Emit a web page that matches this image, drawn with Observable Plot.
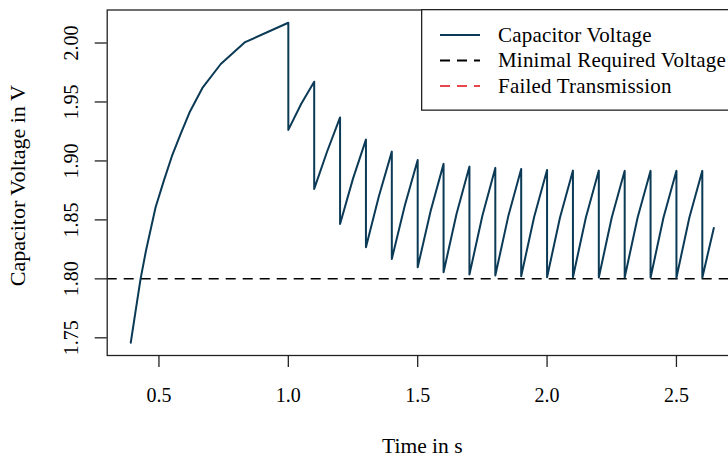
<!DOCTYPE html>
<html><head><meta charset="utf-8">
<script src="https://cdn.jsdelivr.net/npm/d3@7"></script>
<script src="https://cdn.jsdelivr.net/npm/@observablehq/plot@0.6"></script>
<style>
html,body{margin:0;padding:0;background:#fff;overflow:hidden;width:728px;height:458px;}
#wrap{position:relative;width:728px;height:458px;overflow:hidden;}
#wrap svg{display:block;max-width:none !important;}
#legend{position:absolute;left:421px;top:9px;}
</style></head><body><div id="wrap"></div>
<script>
// Capacitor voltage trace (time in s, voltage in V)
const time = [
  0.391, 0.41, 0.429, 0.45, 0.487, 0.519, 0.55, 0.584, 0.62, 0.668, 0.739, 0.831, 1.0,
  1.0, 1.05, 1.1,
  1.1, 1.15, 1.2,
  1.2, 1.25, 1.3,
  1.3, 1.35, 1.4,
  1.4, 1.45, 1.5,
  1.5, 1.55, 1.6,
  1.6, 1.65, 1.7,
  1.7, 1.75, 1.8,
  1.8, 1.85, 1.9,
  1.9, 1.95, 2.0,
  2.0, 2.05, 2.1,
  2.1, 2.15, 2.2,
  2.2, 2.25, 2.3,
  2.3, 2.35, 2.4,
  2.4, 2.45, 2.5,
  2.5, 2.55, 2.6,
  2.6, 2.6445
];
const voltage = [
  1.7458, 1.773, 1.800, 1.824, 1.8607, 1.8833, 1.904, 1.9229, 1.942, 1.9619, 1.9822, 2.0005, 2.0172,
  1.9263, 1.9485, 1.9672,
  1.8763, 1.908, 1.9369,
  1.8466, 1.885, 1.9181,
  1.8268, 1.870, 1.9079,
  1.8169, 1.862, 1.9008,
  1.8098, 1.8575, 1.8975,
  1.8056, 1.855, 1.8952,
  1.8036, 1.8535, 1.8941,
  1.8028, 1.853, 1.8932,
  1.8022, 1.8525, 1.8924,
  1.8014, 1.852, 1.8918,
  1.8014, 1.852, 1.8918,
  1.8012, 1.852, 1.8916,
  1.8012, 1.852, 1.8916,
  1.8010, 1.852, 1.8916,
  1.8010, 1.852, 1.8916,
  1.8010, 1.8432
];
const minVoltage = 1.80;
const xTicks = [0.5, 1.0, 1.5, 2.0, 2.5];
const yTicks = [1.75, 1.80, 1.85, 1.90, 1.95, 2.00];
const xLabel = "Time in s";
const yLabel = "Capacitor Voltage in V";
const legendLabels = ["Capacitor Voltage", "Minimal Required Voltage", "Failed Transmission"];
const legendColors = ["#0b3a56", "#000000", "#e8474b"];
const legendDash = [null, "10,7", "10,7"];

const data = time.map((t, i) => ({t, v: voltage[i]}));
const font = "'Liberation Serif', 'Times New Roman', serif";

const plot = Plot.plot({
  width: 746, height: 458,
  marginLeft: 106.7, marginRight: 9, marginTop: 9.5, marginBottom: 103,
  x: {domain: [0.3, 2.736]},
  y: {domain: [1.735, 2.028]},
  style: {fontFamily: font, fontSize: "20px", color: "#000", background: "#fff", maxWidth: "none"},
  marks: [
    Plot.ruleY([minVoltage], {stroke: "#000", strokeDasharray: "10,7", strokeWidth: 1.5}),
    Plot.line(data, {x: "t", y: "v", stroke: legendColors[0], strokeWidth: 2}),
    Plot.frame({stroke: "#222", strokeWidth: 1.3}),
    Plot.axisX(xTicks, {tickSize: 12, tickPadding: 20, tickFormat: d3.format(".1f"), fontSize: 20, label: null, stroke: "#222", strokeWidth: 1.3}),
    Plot.axisY(yTicks, {tickSize: 12, tickFormat: () => "", label: null, stroke: "#222", strokeWidth: 1.3}),
    Plot.text(yTicks, {y: d => d, text: d3.format(".2f"), frameAnchor: "left", textAnchor: "middle", lineAnchor: "middle", dx: -36, rotate: -90, fontSize: 20, fill: "#000"}),
    Plot.text([xLabel], {text: d => d, frameAnchor: "bottom", textAnchor: "middle", dy: 97, fontSize: 21.5, fill: "#000"}),
    Plot.text([yLabel], {text: d => d, frameAnchor: "left", textAnchor: "middle", lineAnchor: "middle", dx: -89, dy: 3, rotate: -90, fontSize: 22, fill: "#000"})
  ]
});
const wrap = document.getElementById("wrap");
wrap.appendChild(plot);

// Legend box (inside plot area, top right)
const lg = d3.select(wrap).append("svg").attr("id", "legend")
  .attr("width", 320).attr("height", 102);
lg.append("rect").attr("x", 0.65).attr("y", 0.65).attr("width", 330).attr("height", 100.5)
  .attr("fill", "#fff").attr("stroke", "#222").attr("stroke-width", 1.3);
legendLabels.forEach((lab, i) => {
  const cy = 26 + i * 25.5;
  lg.append("line").attr("x1", 19).attr("x2", 59).attr("y1", cy).attr("y2", cy)
    .attr("stroke", legendColors[i]).attr("stroke-width", 1.8)
    .attr("stroke-dasharray", legendDash[i]);
  lg.append("text").attr("x", 77).attr("y", cy).attr("dy", "0.33em")
    .attr("font-family", font).attr("font-size", 21).attr("letter-spacing", "0.2px")
    .attr("fill", "#000").text(lab);
});
</script>
</body></html>
